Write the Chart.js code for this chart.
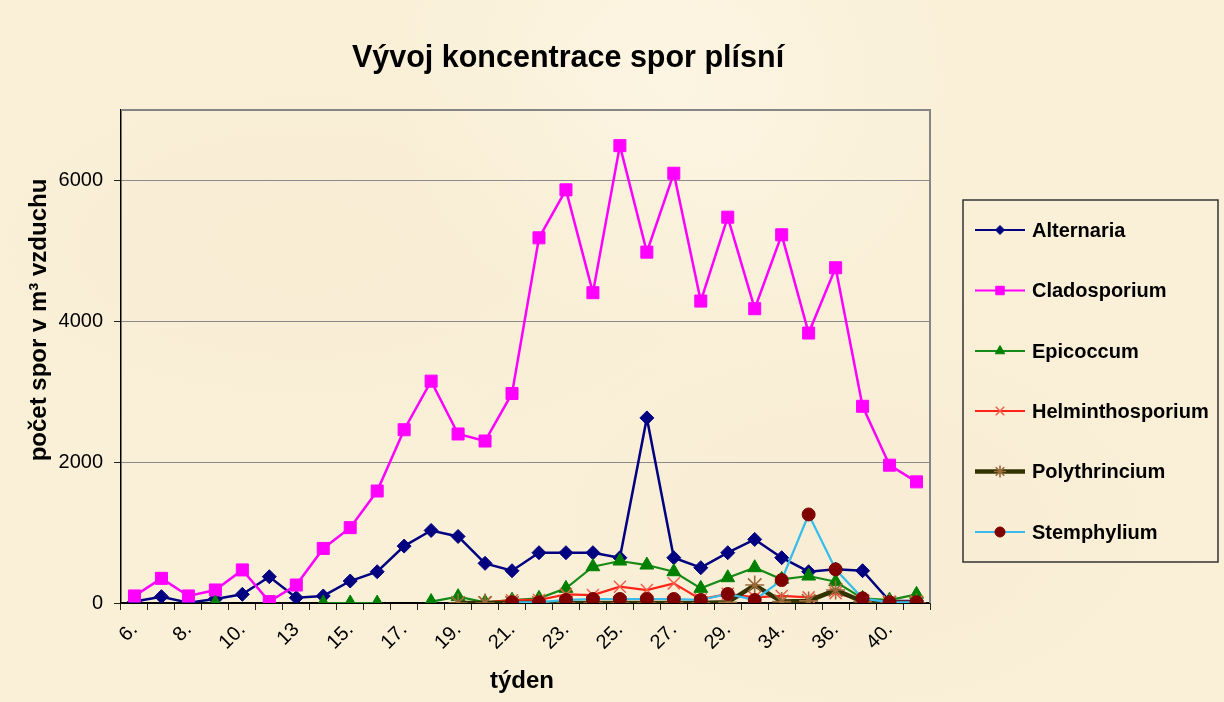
<!DOCTYPE html>
<html>
<head>
<meta charset="utf-8">
<script src="https://cdn.jsdelivr.net/npm/chart.js@4.4.1/dist/chart.umd.min.js"></script>
<style>
html,body{margin:0;padding:0;background:#FAF0D8;}
#wrap{width:1224px;height:702px;position:relative;
  background:
    radial-gradient(ellipse at 25% 35%, rgba(244,230,200,0.30), rgba(0,0,0,0) 35%),
    radial-gradient(ellipse at 70% 75%, rgba(244,230,200,0.25), rgba(0,0,0,0) 40%),
    radial-gradient(ellipse at 55% 12%, rgba(255,251,238,0.45), rgba(0,0,0,0) 30%),
    #FAF0D8;}
</style>
</head>
<body>
<div id="wrap"><canvas id="c"></canvas></div>
<script>
// ---- data ----
const weeks = ['6.','7.','8.','9.','10.','12.','13','14.','15.','16.','17.','18.','19.','20.','21.','22.','23.','24.','25.','26.','27.','28.','29.','31.','34.','35.','36.','38.','40.','41.'];
const alternaria = [20, 90, 5, 57, 123, 373, 75, 100, 312, 444, 808, 1030, 945, 563, 458, 714, 714, 714, 643, 2628, 643, 501, 714, 903, 643, 444, 478, 458, 28, 28];
const cladosporium = [100, 350, 100, 185, 470, 20, 255, 775, 1070, 1590, 2460, 3150, 2400, 2300, 2975, 5185, 5866, 4406, 6494, 4982, 6102, 4287, 5478, 4179, 5228, 3833, 4760, 2793, 1957, 1720];
const epicoccum = [null, null, null, 0, null, null, null, 0, 0, 0, null, 20, 90, 10, 40, 66, 208, 515, 596, 539, 444, 208, 359, 501, 336, 383, 302, 66, 40, 123];
const helminthosporium = [null, null, null, null, null, null, null, null, null, null, null, null, 0, 10, 40, 43, 123, 113, 231, 184, 279, 52, 130, 80, 100, 80, 140, 40, 20, 20];
const polythrincium = [null, null, null, null, null, null, null, null, null, null, null, null, 0, 0, 0, 0, 0, 0, 0, 0, 0, 0, 10, 255, 20, 30, 184, 20, 0, 0];
const stemphylium = [null, null, null, null, null, null, null, null, null, null, null, null, null, null, 10, 10, 43, 57, 57, 57, 57, 43, 128, 43, 326, 1257, 478, 66, 10, 10];
const seriesNames = ['Alternaria', 'Cladosporium', 'Epicoccum', 'Helminthosporium', 'Polythrincium', 'Stemphylium'];
const yTicks = [0, 2000, 4000, 6000];
const chartTitle = 'Vývoj koncentrace spor plísní';
const yTitle = 'počet spor v m³ vzduchu';
const xTitle = 'týden';
const yMax = 7000;

// ---- styles ----
const FONT = '"Liberation Sans", Arial, Helvetica, sans-serif';
const styles = [
  {line:'#000080', fill:'#000080', border:'#000080', ps:'rectRot', r:7, lw:2.5, lr:4.5},
  {line:'#FF00FF', fill:'#FF00FF', border:'#FF00FF', ps:'rect', r:8.5, lw:2.5, lr:6},
  {line:'#168A16', fill:'#008000', border:'#008000', ps:'triangle', r:8, lw:2.2, lr:5.5},
  {line:'#FF2418', fill:'rgba(0,0,0,0)', border:'#F2604E', ps:'crossRot', r:8.5, lw:2.2, lr:6, pbw:1.5},
  {line:'#333300', fill:'rgba(0,0,0,0)', border:'#9A6A3A', ps:'star', r:9.5, lw:4.5, lr:6, pbw:1.6},
  {line:'#38BCEB', fill:'#800000', border:'#800000', ps:'circle', r:6.5, lw:2.2, lr:5}
];
const seriesData = [alternaria, cladosporium, epicoccum, helminthosporium, polythrincium, stemphylium];

const datasets = seriesNames.map((name, i) => ({
  label: name,
  data: seriesData[i],
  borderColor: styles[i].line,
  backgroundColor: styles[i].line,
  borderWidth: styles[i].lw,
  pointStyle: styles[i].ps,
  pointRadius: styles[i].r,
  pointHoverRadius: styles[i].r,
  pointBackgroundColor: styles[i].fill,
  pointBorderColor: styles[i].border,
  pointBorderWidth: styles[i].pbw || 1,
  tension: 0,
  fill: false,
  spanGaps: false,
  order: 6 - i
}));

const decorPlugin = {
  id: 'decor',
  beforeDatasetsDraw(chart) {
    const {ctx, chartArea: a} = chart;
    ctx.save();
    ctx.strokeStyle = '#858585';
    ctx.lineWidth = 2;
    ctx.beginPath();
    ctx.moveTo(a.left, a.top);
    ctx.lineTo(a.right, a.top);
    ctx.lineTo(a.right, a.bottom);
    ctx.stroke();
    ctx.restore();
  },
  afterDraw(chart) {
    const {ctx} = chart;
    ctx.save();
    ctx.fillStyle = '#000';
    ctx.textAlign = 'center';
    ctx.textBaseline = 'middle';
    ctx.font = 'bold 30.5px ' + FONT;
    ctx.fillText(chartTitle, 568, 59);
    ctx.font = 'bold 24px ' + FONT;
    ctx.fillText(xTitle, 522, 681);
    ctx.save();
    ctx.translate(39, 320);
    ctx.rotate(-Math.PI / 2);
    ctx.font = 'bold 24px ' + FONT;
    ctx.fillText(yTitle, 0, 0);
    ctx.restore();

    // legend box
    const bx = 963, by = 200, bw = 255, bh = 362;
    ctx.strokeStyle = '#333';
    ctx.lineWidth = 1.5;
    ctx.strokeRect(bx, by, bw, bh);
    const rows = [230, 290.5, 351, 411, 471.5, 532];
    const helpers = Chart.helpers;
    seriesNames.forEach((name, i) => {
      const y = rows[i];
      const s = styles[i];
      ctx.strokeStyle = s.line;
      ctx.lineWidth = i === 4 ? 4.5 : 2.2;
      ctx.beginPath();
      ctx.moveTo(975, y);
      ctx.lineTo(1025, y);
      ctx.stroke();
      ctx.fillStyle = s.fill;
      ctx.strokeStyle = s.border;
      ctx.lineWidth = s.pbw || 1;
      if (helpers && helpers.drawPoint) {
        helpers.drawPoint(ctx, {pointStyle: s.ps, radius: s.lr, borderWidth: s.pbw || 1, rotation: 0}, 1000, y);
      }
      ctx.fillStyle = '#000';
      ctx.textAlign = 'left';
      ctx.textBaseline = 'middle';
      ctx.font = 'bold 20px ' + FONT;
      ctx.fillText(name, 1032, y + 1);
    });
    ctx.restore();
  }
};

new Chart(document.getElementById('c'), {
  type: 'line',
  data: { labels: weeks, datasets: datasets },
  options: {
    responsive: true,
    maintainAspectRatio: false,
    animation: false,
    events: [],
    layout: { padding: { top: 110, right: 294, bottom: 0, left: 0 } },
    plugins: {
      legend: { display: false },
      title: { display: false },
      tooltip: { enabled: false }
    },
    scales: {
      x: {
        type: 'category',
        offset: true,
        grid: { display: true, drawOnChartArea: false, drawTicks: true, tickLength: 7, color: '#222', offset: true },
        border: { color: '#000', width: 1.5 },
        ticks: {
          autoSkip: false, maxRotation: 45, minRotation: 45,
          font: { family: FONT, size: 20 }, color: '#000', padding: 8,
          callback: function (v, i) { return i % 2 === 0 ? this.getLabelForValue(v) : ''; }
        },
        afterFit: s => { s.height = 99; }
      },
      y: {
        min: 0, max: yMax,
        afterBuildTicks: s => { s.ticks = yTicks.map(v => ({ value: v })); },
        ticks: { font: { family: FONT, size: 20 }, color: '#000', padding: 11, callback: v => String(v) },
        grid: { color: c => (c.tick && c.tick.value === 0 ? '#000' : '#8a8a8a'), lineWidth: 1, tickLength: 7, tickColor: '#222', drawTicks: true },
        border: { color: '#000', width: 1.5 },
        afterFit: s => { s.width = 121; }
      }
    }
  },
  plugins: [decorPlugin]
});
</script>
</body>
</html>
